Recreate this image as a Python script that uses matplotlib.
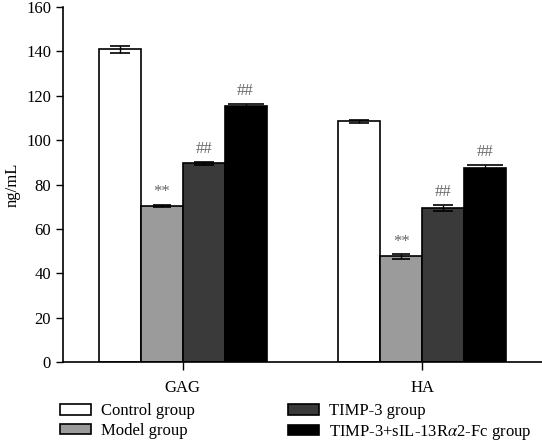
import numpy as np
import matplotlib
matplotlib.use("Agg")
import matplotlib.pyplot as plt

plt.rcParams["font.family"] = ["Liberation Serif", "DejaVu Serif"]
plt.rcParams["mathtext.fontset"] = "stix"

# 데이터
categories = ["GAG", "HA"]
groups = ["Control group", "Model group", "TIMP-3 group", r"TIMP-3+sIL-13R$\alpha$2-Fc group"]
values = {
    "Control group": [141.0, 108.5],
    "Model group": [70.3, 47.6],
    "TIMP-3 group": [89.6, 69.4],
    r"TIMP-3+sIL-13R$\alpha$2-Fc group": [115.3, 87.4],
}
errors = {
    "Control group": [1.5, 0.8],
    "Model group": [0.5, 1.0],
    "TIMP-3 group": [0.7, 1.5],
    r"TIMP-3+sIL-13R$\alpha$2-Fc group": [1.2, 1.5],
}
marks = ["", "**", "##", "##"]
colors = ["#ffffff", "#9b9b9b", "#3a3a3a", "#000000"]
caps = [7, 6.5, 7, 13]

fig = plt.figure(figsize=(5.42, 4.43), dpi=100)
ax = fig.add_axes([0.116, 0.183, 0.884, 0.801])

x = np.arange(len(categories))
width = 0.175
offsets = (np.arange(len(groups)) - 1.5) * width

for i, g in enumerate(groups):
    pos = x + offsets[i]
    ax.bar(pos, values[g], width, color=colors[i], edgecolor="black", linewidth=1.2,
           yerr=errors[g], capsize=caps[i], error_kw=dict(elinewidth=1, capthick=1.2, ecolor="black"),
           label=g, zorder=2)
    if marks[i]:
        for p, v, e in zip(pos, values[g], errors[g]):
            ax.text(p, v + e + 2.0, marks[i], ha="center", va="bottom", fontsize=12, color="#666666")

ax.set_xlim(-0.5, 1.5)
ax.set_ylim(0, 160)
ax.set_yticks(np.arange(0, 161, 20))
ax.set_xticks(x)
ax.set_xticklabels(categories, fontsize=12)
ax.tick_params(axis="y", labelsize=12, length=5, width=1)
ax.tick_params(axis="x", length=6, width=1, pad=7)
ax.set_ylabel("ng/mL", fontsize=12)
ax.spines["top"].set_visible(False)
ax.spines["right"].set_visible(False)
ax.spines["left"].set_linewidth(1.2)
ax.spines["bottom"].set_linewidth(1.2)

fig.legend(loc="lower left", bbox_to_anchor=(0.096, -0.016), ncol=2, frameon=False,
           fontsize=12, handlelength=1.85, handleheight=0.6, handletextpad=0.6,
           columnspacing=5.6, labelspacing=0.22, borderpad=0.0)

fig.savefig("out.png", dpi=100)
